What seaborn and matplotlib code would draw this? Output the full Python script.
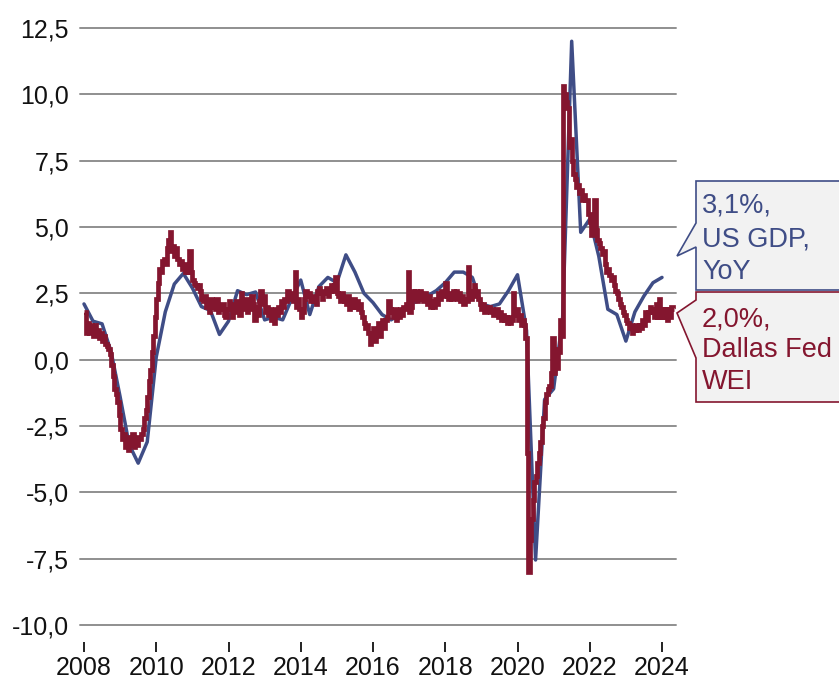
import numpy as np
import pandas as pd
import matplotlib.pyplot as plt
import seaborn as sns
from matplotlib.patches import Polygon
from matplotlib.ticker import FuncFormatter, MultipleLocator

# US real GDP, % change YoY, quarterly (plotted at quarter end)
gdp_start = 2008.0
gdp_yoy = [2.1, 1.45, 1.35, 0.3, -1.4, -3.2, -3.9, -3.1,
           0.1, 1.8, 2.85, 3.25, 2.7, 2.0, 1.85, 0.95,
           1.45, 2.6, 2.45, 2.55, 1.5, 1.6, 1.5, 2.3,
           3.0, 1.7, 2.75, 3.1, 2.9, 3.95, 3.3, 2.5,
           2.15, 1.7, 1.5, 1.7, 2.1, 2.2, 2.4, 2.6,
           2.9, 3.3, 3.3, 3.1, 2.1, 2.0, 2.1, 2.6,
           3.2, 1.1, -7.55, -1.5, -1.1, 1.6, 12.0, 4.8,
           5.3, 3.9, 1.9, 1.7, 0.7, 1.8, 2.4, 2.9,
           3.1]

wei_start = 2008.0
wei_per_year = 24
wei_values = [
    1.8, 1.0, 1.4, 1.0, 1.3, 1.2, 0.9, 1.3, 1.0, 1.1, 0.8, 1.0, 0.7, 0.9, 0.6, 0.5, 0.4, 0.2, -0.2, -0.6, -1.1, -1.3, -1.6, -2.1,
    -2.6, -3.0, -2.8, -3.3, -2.9, -3.4, -3.0, -3.2, -2.8, -3.3, -3.1, -3.2, -2.9, -3.0, -2.8, -2.6, -2.2, -1.9, -1.4, -0.8, -0.4, 0.3, 0.9, 1.6,
    2.3, 2.9, 3.4, 3.3, 3.7, 3.8, 3.6, 4.2, 4.5, 4.8, 4.1, 4.3, 3.9, 4.2, 3.8, 3.6, 3.7, 3.4, 3.6, 3.3, 3.5, 3.3, 4.1, 3.3,
    3.0, 2.9, 2.8, 2.7, 2.8, 2.6, 2.3, 2.2, 2.4, 2.0, 2.2, 1.8, 2.3, 2.0, 2.2, 1.9, 2.3, 1.8, 2.0, 1.9, 2.1, 1.7, 1.6, 1.9,
    2.2, 2.0, 1.6, 2.1, 1.8, 2.2, 2.0, 1.7, 2.5, 2.1, 1.9, 2.3, 1.8, 2.2, 1.9, 2.4, 2.1, 1.5, 2.0, 1.7, 2.2, 2.6, 2.1, 2.4,
    1.8, 2.0, 1.7, 1.9, 1.5, 1.6, 1.4, 1.9, 1.7, 2.0, 1.8, 2.2, 2.0, 2.3, 2.2, 2.6, 2.3, 2.5, 2.4, 2.2, 3.3, 2.0, 2.3, 1.9,
    1.6, 1.8, 2.3, 2.6, 2.4, 2.5, 2.2, 2.4, 2.2, 2.3, 2.1, 2.6, 2.7, 2.5, 2.3, 2.6, 2.5, 2.7, 2.4, 2.6, 2.8, 2.6, 2.8, 3.1,
    2.5, 2.4, 2.2, 2.5, 2.3, 2.2, 2.1, 2.4, 1.9, 2.1, 2.0, 2.3, 2.0, 2.2, 1.9, 2.1, 1.8, 1.6, 1.4, 1.2, 1.3, 1.0, 0.6, 1.0,
    1.2, 0.7, 1.1, 1.4, 0.9, 1.3, 1.5, 1.2, 1.5, 1.6, 2.2, 1.9, 1.8, 1.6, 1.9, 1.5, 1.7, 1.6, 1.9, 1.7, 2.0, 1.9, 2.1, 3.3,
    1.8, 2.0, 2.6, 2.3, 2.6, 2.2, 2.3, 2.6, 2.4, 2.2, 2.5, 2.3, 2.1, 2.4, 2.0, 2.2, 2.0, 2.3, 2.1, 2.5, 2.3, 2.6, 2.4, 2.5,
    2.9, 2.4, 2.3, 2.5, 2.3, 2.6, 2.4, 2.6, 2.3, 2.5, 2.2, 2.4, 2.1, 2.3, 2.2, 3.5, 2.5, 2.3, 2.6, 2.8, 2.4, 2.6, 2.3, 2.1,
    1.9, 2.1, 1.8, 2.0, 1.9, 2.0, 1.8, 1.9, 1.7, 1.8, 1.9, 1.6, 1.8, 1.5, 1.7, 1.5, 1.6, 1.4, 1.6, 1.4, 1.5, 2.5, 1.7, 1.9,
    1.5, 1.7, 1.3, 1.5, 1.3, 0.8, -3.5, -8.0, -6.8, -6.0, -5.3, -4.6, -4.4, -3.9, -3.5, -3.1, -2.5, -2.2, -1.6, -1.3, -1.1, -1.0, -0.5, 0.8,
    -0.5, 0.4, -0.3, 0.3, 1.5, 0.9, 10.3, 10.0, 9.7, 9.5, 8.0, 8.3, 7.5, 7.0, 6.8, 6.5, 6.6, 6.3, 6.4, 6.0, 6.2, 6.0, 6.0, 5.5,
    5.2, 4.7, 5.0, 6.0, 4.9, 4.5, 4.4, 4.2, 4.0, 4.1, 3.6, 3.3, 3.4, 3.2, 3.0, 3.1, 2.8, 2.6, 2.5, 2.3, 2.1, 2.0, 1.8, 1.7,
    1.5, 1.4, 1.2, 1.3, 1.0, 1.2, 1.1, 1.3, 1.1, 1.3, 1.2, 1.5, 1.3, 1.8, 1.5, 1.8, 2.0, 1.8, 1.9, 1.6, 2.1, 1.6, 2.3, 1.6,
    1.9, 1.6, 1.9, 1.5, 1.9, 1.6, 2.0, 1.9, 1.9,
]

gdp_label = ["3,1%,", "US GDP,", "YoY"]
wei_label = ["2,0%,", "Dallas Fed", "WEI"]

blue = "#3F4D86"
red = "#84162F"

gdp = pd.DataFrame({"date": gdp_start + 0.25 * np.arange(len(gdp_yoy)),
                    "value": gdp_yoy})
wei = pd.DataFrame({"date": wei_start + np.arange(len(wei_values)) / wei_per_year,
                    "value": wei_values})

sns.set_style("white")
plt.rcParams["font.family"] = ["Liberation Sans", "DejaVu Sans"]

W, H = 839, 682
fig = plt.figure(figsize=(W / 100, H / 100), dpi=100)
ax = fig.add_axes([80 / W, 1 - 625 / H, 596 / W, 597 / H])

sns.lineplot(data=gdp, x="date", y="value", ax=ax, color=blue, lw=2.5,
             estimator=None, errorbar=None, zorder=3)
sns.lineplot(data=wei, x="date", y="value", ax=ax, color=red, lw=3.4,
             estimator=None, errorbar=None, drawstyle="steps-post", zorder=4,
             solid_joinstyle="miter", solid_capstyle="butt")

ax.set_xlim(2008 - 4 / 36.125, 2008 + 592 / 36.125)
ax.set_ylim(-10, 12.5)
ax.set_xlabel("")
ax.set_ylabel("")

ax.yaxis.set_major_locator(MultipleLocator(2.5))
ax.yaxis.set_major_formatter(FuncFormatter(lambda v, p: f"{v:.1f}".replace(".", ",")))
ax.set_xticks(range(2008, 2025, 2))
ax.xaxis.set_major_formatter(FuncFormatter(lambda v, p: f"{int(v)}"))

ax.grid(axis="y", color="#8f8f8f", lw=1.4)
ax.grid(axis="x", visible=False)
for gl in ax.get_ygridlines():
    gl.set_clip_on(False)
ax.set_axisbelow(True)

for s in ["top", "right", "left"]:
    ax.spines[s].set_visible(False)
ax.spines["bottom"].set_position(("outward", 12))
ax.spines["bottom"].set_visible(False)
ax.tick_params(axis="y", length=0, pad=8, labelsize=18, labelcolor="#111111")
ax.tick_params(axis="x", length=7, width=1.4, color="#222222", direction="out",
               pad=3.5, labelsize=18, labelcolor="#111111", bottom=True)


def px(x, y):
    return (x / W, 1 - y / H)


def callout(pts, edge, lines, baselines):
    poly = Polygon([px(x, y) for x, y in pts], closed=True, transform=fig.transFigure,
                   facecolor="#F2F2F2", edgecolor=edge, lw=1.2, clip_on=False, zorder=5)
    fig.add_artist(poly)
    for txt, yb in zip(lines, baselines):
        fig.text(*px(702, yb), txt, color=edge, fontsize=19.5, va="baseline", ha="left", zorder=6)


callout([(696, 181), (850, 181), (850, 290), (696, 290), (696, 247), (677, 256), (696, 223)],
        blue, gdp_label, [213, 246, 279])
callout([(696, 292), (850, 292), (850, 402), (696, 402), (696, 358), (677, 313), (696, 300)],
        red, wei_label, [326, 357, 389])

fig.savefig("out.png", dpi=100)
